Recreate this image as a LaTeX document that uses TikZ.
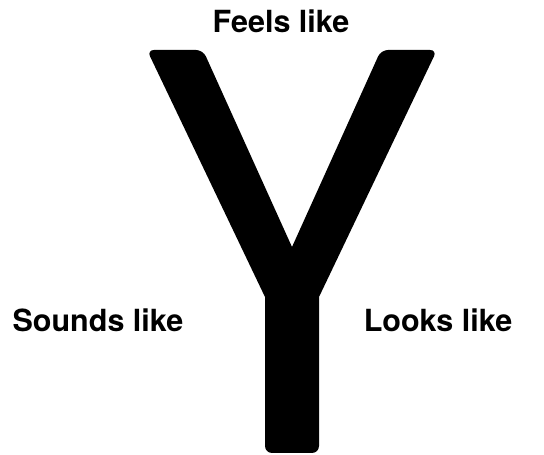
\documentclass[tikz,border=0pt]{standalone}
\usepackage{fontspec}
\setmainfont{TeX Gyre Heros}
\usetikzlibrary{positioning}

\begin{document}
\begin{tikzpicture}[
  x=1pt,y=1pt,
  label text/.style={font=\fontsize{30.5}{36}\selectfont\bfseries,inner sep=0pt,anchor=base},
  letter/.style={fill=black}
]
\useasboundingbox (0,0) rectangle (544,455);
% corners of the letter
\coordinate (lefttopl) at (147,405);
\coordinate (lefttopr) at (203,405);
\coordinate (crotch) at (292,208);
\coordinate (righttopl) at (381,405);
\coordinate (righttopr) at (437,405);
\coordinate (stemr) at (319,158);
\coordinate (stembr) at (319,2);
\coordinate (stembl) at (265,2);
\coordinate (steml) at (265,158);
\fill[letter] (steml) [rounded corners=7pt] -- (lefttopl) -- (lefttopr) [sharp corners] -- (crotch)
  [rounded corners=7pt] -- (righttopl) -- (righttopr) [sharp corners] -- (stemr)
  [rounded corners=7pt] -- (stembr) -- (stembl) [sharp corners] -- cycle;
\node[label text] (feels) at (281,422) {Feels like};
\node[label text] (sounds) at (98,123) {Sounds like};
\node[label text] (looks) at (438,123) {Looks like};
\end{tikzpicture}
\end{document}
